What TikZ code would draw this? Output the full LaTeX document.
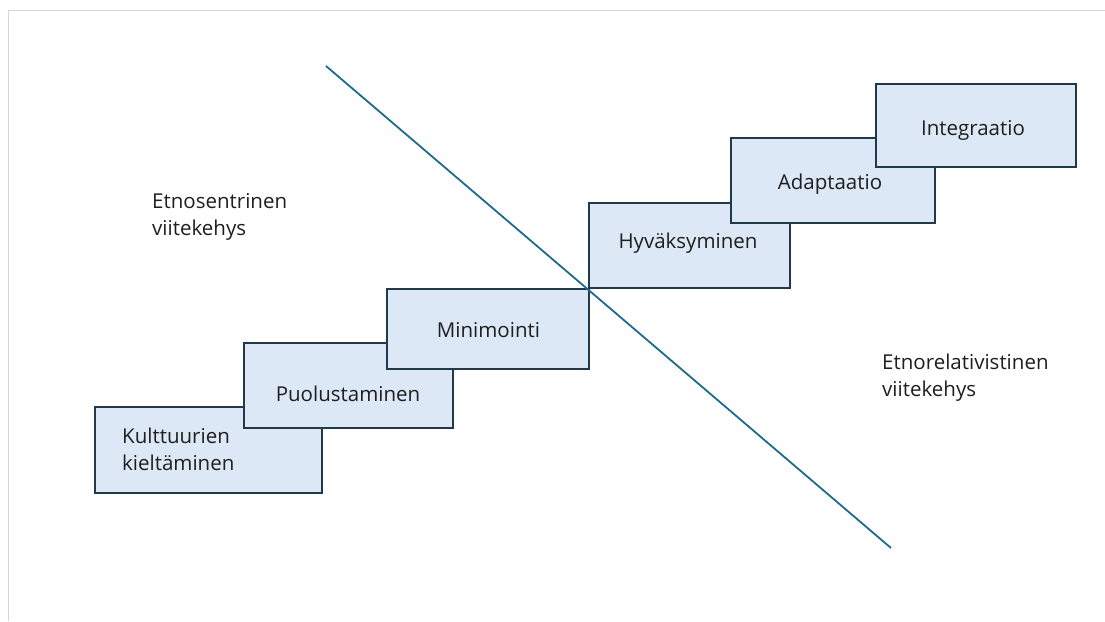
\documentclass[tikz,border=0pt]{standalone}
\usepackage{fontspec}
\setmainfont{Open Sans}
\definecolor{boxfill}{HTML}{DCE8F5}
\definecolor{boxline}{HTML}{22394A}
\definecolor{divline}{HTML}{1E6A8C}
\definecolor{frameline}{HTML}{D6D6D6}
\begin{document}
\begin{tikzpicture}[x=1pt,y=-1pt,
  stage/.style={draw=boxline, fill=boxfill, line width=1.7pt, inner sep=0pt, rectangle},
  lbl/.style={inner sep=0pt, font=\fontsize{20.5}{27}\selectfont, text=black!88},
  divider/.style={draw=divline, line width=1.8pt}]
\useasboundingbox (0,0) rectangle (1105,621);
% frame edges (top and left only)
\coordinate (ftl) at (8,10);
\coordinate (ftr) at (1105,10);
\coordinate (fbl) at (8,621);
\draw[frameline, line width=1pt] (fbl) -- (ftl) -- (ftr);

% stage boxes
\node[stage, minimum width=227pt, minimum height=86pt] (b1) at (208.5,450) {};
\node[stage, minimum width=209pt, minimum height=85pt] (b2) at (348.5,385.5) {};
\node[stage, minimum width=202pt, minimum height=80pt] (b3) at (488,329) {};
\node[stage, minimum width=201pt, minimum height=85pt] (b4) at (689.5,245.5) {};
\node[stage, minimum width=204pt, minimum height=85pt] (b5) at (833,180.5) {};
\node[stage, minimum width=200pt, minimum height=83pt] (b6) at (976,125.5) {};

% texts in boxes
\node[lbl, anchor=base west] (t1a) at (122,443) {Kulttuurien};
\node[lbl, anchor=base west] (t1b) at (122,470) {kieltäminen};
\node[lbl, anchor=base] (t2) at (348,401) {Puolustaminen};
\node[lbl, anchor=base] (t3) at (488.5,337) {Minimointi};
\node[lbl, anchor=base] (t4) at (688,248) {Hyväksyminen};
\node[lbl, anchor=base] (t5) at (830,189) {Adaptaatio};
\node[lbl, anchor=base] (t6) at (973,135) {Integraatio};

% side labels
\node[lbl, anchor=base west] (e1) at (152,208) {Etnosentrinen};
\node[lbl, anchor=base west] (e2) at (152,235) {viitekehys};
\node[lbl, anchor=base west] (r1) at (882,369) {Etnorelativistinen};
\node[lbl, anchor=base west] (r2) at (882,396) {viitekehys};

% divider
\coordinate (dstart) at (326,66);
\coordinate (dend) at (891,548);
\draw[divider] (dstart) -- (dend);
\end{tikzpicture}
\end{document}
